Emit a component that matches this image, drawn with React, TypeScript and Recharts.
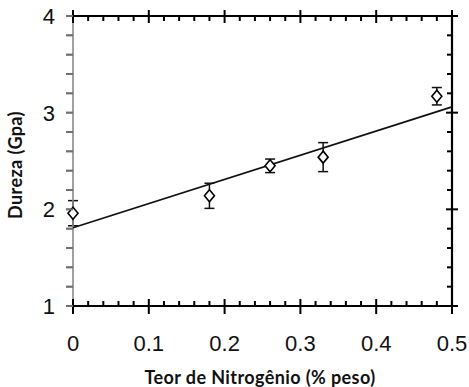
import React from 'react';
import { ComposedChart, Scatter, XAxis, YAxis, ErrorBar, Label } from 'recharts';

const nitrogen = [0, 0.18, 0.26, 0.33, 0.48];
const hardness = [1.96, 2.14, 2.45, 2.54, 3.17];
const hardnessError = [0.13, 0.13, 0.07, 0.15, 0.09];
const fitX = [0, 0.5];
const fitY = [1.81, 3.06];
const xMajorTicks = [0, 0.1, 0.2, 0.3, 0.4, 0.5];
const yMajorTicks = [1, 2, 3, 4];
const xTicks = Array.from({ length: 26 }, (_, i) => Math.round(i * 2) / 100);
const yTicks = Array.from({ length: 16 }, (_, i) => Math.round((1 + i * 0.2) * 10) / 10);

const points = nitrogen.map((x, i) => ({ x, y: hardness[i], err: hardnessError[i] }));
const fit = fitX.map((x, i) => ({ x, y: fitY[i] }));

const isMajor = (v: number, list: number[]) => list.some((m) => Math.abs(m - v) < 1e-6);
const TICK_FONT = '"Liberation Sans", Arial, sans-serif';
const TITLE_FONT = 'Lato, "Open Sans", sans-serif';

const BottomTick = (props: any) => {
  const { x, y, payload } = props;
  const v = payload.value;
  const major = isMajor(v, xMajorTicks);
  return (
    <g>
      {major ? (
        <line x1={x} x2={x} y1={y - 7} y2={y + 8} stroke="#000" strokeWidth={2} />
      ) : (
        <line x1={x} x2={x} y1={y - 5} y2={y} stroke="#000" strokeWidth={2} />
      )}
      {major && (
        <text x={x} y={y + 45} textAnchor="middle" fontFamily={TICK_FONT} fontSize={22} fill="#111">
          {String(v)}
        </text>
      )}
    </g>
  );
};

const TopTick = (props: any) => {
  const { x, y, payload } = props;
  const major = isMajor(payload.value, xMajorTicks);
  return major ? (
    <line x1={x} x2={x} y1={y - 6} y2={y + 7} stroke="#000" strokeWidth={2} />
  ) : (
    <line x1={x} x2={x} y1={y} y2={y + 5} stroke="#000" strokeWidth={2} />
  );
};

const LeftTick = (props: any) => {
  const { x, y, payload } = props;
  const v = payload.value;
  const major = isMajor(v, yMajorTicks);
  return (
    <g>
      <path d={`M${x},${y}h7`} stroke="#6f6f6f" strokeWidth={1.8} fill="none" />
      {major && (
        <text x={x - 11} y={y + 8} textAnchor="end" fontFamily={TICK_FONT} fontSize={22} fill="#111">
          {String(v)}
        </text>
      )}
    </g>
  );
};

const RightTick = (props: any) => {
  const { x, y, payload } = props;
  const major = isMajor(payload.value, yMajorTicks);
  return major ? (
    <line x1={x - 6} x2={x + 6} y1={y} y2={y} stroke="#000" strokeWidth={2} />
  ) : (
    <line x1={x - 5} x2={x} y1={y} y2={y} stroke="#000" strokeWidth={2} />
  );
};

const Diamond = (props: any) => {
  const { cx, cy } = props;
  if (cx == null || cy == null) return <g />;
  return (
    <polygon
      points={`${cx},${cy - 6} ${cx + 5},${cy} ${cx},${cy + 6} ${cx - 5},${cy}`}
      fill="#fff"
      stroke="#000"
      strokeWidth={1.6}
    />
  );
};

const NoShape = () => <g />;

export default function App() {
  return (
    <div style={{ position: 'absolute', left: 0, top: 0, background: '#fff' }}>
      <ComposedChart width={469} height={387} margin={{ top: 15, right: 16, bottom: 80, left: 72 }}>
        <XAxis
          xAxisId="b"
          dataKey="x"
          type="number"
          domain={[0, 0.5]}
          ticks={xTicks}
          interval={0}
          orientation="bottom"
          height={1}
          tickSize={0}
          tickMargin={0}
          tickLine={false}
          axisLine={{ stroke: '#000', strokeWidth: 2.2 }}
          tick={BottomTick}
        >
          <Label
            content={() => (
              <text
                x={260}
                y={384}
                textAnchor="middle"
                fontFamily={TITLE_FONT}
                fontWeight={700}
                fontSize={18}
                letterSpacing={0.4}
                fill="#111"
              >
                Teor de Nitrogênio (% peso)
              </text>
            )}
          />
        </XAxis>
        <XAxis
          xAxisId="t"
          dataKey="x"
          type="number"
          domain={[0, 0.5]}
          ticks={xTicks}
          interval={0}
          orientation="top"
          height={1}
          tickSize={0}
          tickMargin={0}
          tickLine={false}
          axisLine={{ stroke: '#000', strokeWidth: 2.2 }}
          tick={TopTick}
        />
        <YAxis
          yAxisId="l"
          dataKey="y"
          type="number"
          domain={[1, 4]}
          ticks={yTicks}
          interval={0}
          orientation="left"
          width={1}
          tickSize={7}
          tickMargin={0}
          tickLine={{ stroke: '#6f6f6f', strokeWidth: 1.8 }}
          axisLine={{ stroke: '#8a8a8a', strokeWidth: 1.6 }}
          tick={LeftTick}
        >
          <Label
            content={() => (
              <text
                x={22}
                y={165}
                transform="rotate(-90 22 165)"
                textAnchor="middle"
                fontFamily={TITLE_FONT}
                fontWeight={700}
                fontSize={18}
                letterSpacing={0.4}
                fill="#111"
              >
                Dureza (Gpa)
              </text>
            )}
          />
        </YAxis>
        <YAxis
          yAxisId="r"
          dataKey="y"
          type="number"
          domain={[1, 4]}
          ticks={yTicks}
          interval={0}
          orientation="right"
          width={1}
          tickSize={0}
          tickMargin={0}
          tickLine={false}
          axisLine={{ stroke: '#000', strokeWidth: 2.2 }}
          tick={RightTick}
        />
        <Scatter
          xAxisId="t"
          yAxisId="r"
          data={fit}
          dataKey="y"
          shape={NoShape}
          isAnimationActive={false}
          legendType="none"
        />
        <Scatter
          xAxisId="b"
          yAxisId="l"
          data={fit}
          dataKey="y"
          line={{ stroke: '#111', strokeWidth: 1.7 }}
          shape={NoShape}
          isAnimationActive={false}
          legendType="none"
        />
        <Scatter
          xAxisId="b"
          yAxisId="l"
          data={points}
          dataKey="y"
          shape={Diamond}
          isAnimationActive={false}
          legendType="none"
        >
          <ErrorBar dataKey="err" direction="y" width={5} stroke="#111" strokeWidth={1.5} isAnimationActive={false} />
        </Scatter>
      </ComposedChart>
    </div>
  );
}
